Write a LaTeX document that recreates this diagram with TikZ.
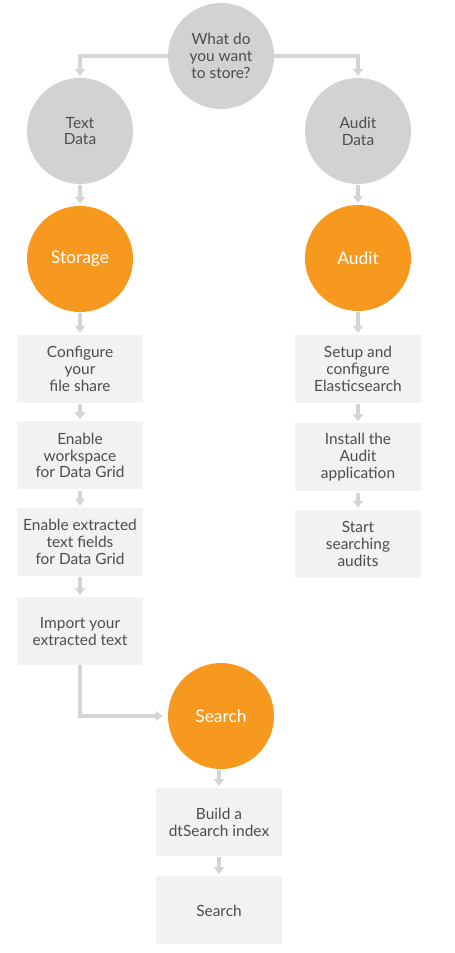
\documentclass[tikz,border=0pt]{standalone}
\usepackage{fontspec}
\setmainfont{Lato}
\usetikzlibrary{arrows.meta,positioning,calc}
\definecolor{qgray}{HTML}{D1D2D4}
\definecolor{orng}{HTML}{F7991F}
\definecolor{boxbg}{HTML}{F1F2F2}
\definecolor{txtgray}{HTML}{4D4D4F}
\definecolor{arrgray}{HTML}{D3D4D5}

\begin{document}
\begin{tikzpicture}[x=1bp, y=-1bp,
    circ/.style={circle, draw=none, fill=qgray, minimum size=106bp, inner sep=0pt,
                 align=center, text=txtgray, font=\fontsize{15.5}{17}\selectfont},
    hot/.style={circ, fill=orng, text=white, font=\fontsize{17.5}{20}\selectfont},
    box/.style={draw=none, fill=boxbg, minimum width=126bp, minimum height=68bp,
                inner sep=0pt, align=center, text=txtgray, font=\fontsize{15.5}{17}\selectfont},
    arr/.style={-{Triangle[width=10bp,length=7bp]}, line width=3.2bp, arrgray,
                shorten >=2bp, shorten <=1bp}]
    \useasboundingbox (0,0) rectangle (455,953);
    % circles
    \node[circ] (q) at (221,56) {What do\\you want\\to store?};
    \node[circ] (td) at (80,131) {Text\\Data};
    \node[circ] (ad) at (358,131) {Audit\\Data};
    \node[hot] (st) at (80,259) {Storage};
    \node[hot] (au) at (358,258) {Audit};
    \node[hot] (sr) at (221,716) {Search};
    % left column
    \node[box] (cfg) at (80,369) {Configure\\your\\file share};
    \node[box, below=18bp of cfg] (ws) {Enable\\workspace\\for Data Grid};
    \node[box, below=18bp of ws] (fld) {Enable extracted\\text fields\\for Data Grid};
    \node[box, below=21bp of fld] (imp) {Import your\\extracted text};
    % right column
    \node[box] (es) at (358,369) {Setup and\\configure\\Elasticsearch};
    \node[box, below=20bp of es] (inst) {Install the\\Audit\\application};
    \node[box, below=18bp of inst] (sa) {Start\\searching\\audits};
    % search column
    \node[box] (idx) at (219,822) {Build a\\dtSearch index};
    \node[box, below=20bp of idx] (srch) {Search};
    % connectors
    \draw[arr, shorten <=0bp] (q.west) -| (td.north);
    \draw[arr, shorten <=0bp] (q.east) -| (ad.north);
    \draw[arr] (td) -- (st);
    \draw[arr] (ad) -- (au);
    \draw[arr] (st) -- (cfg);
    \draw[arr] (cfg) -- (ws);
    \draw[arr] (ws) -- (fld);
    \draw[arr] (fld) -- (imp);
    \draw[arr] (au) -- (es);
    \draw[arr] (es) -- (inst);
    \draw[arr] (inst) -- (sa);
    \draw[arr, shorten <=0bp, shorten >=5bp] (imp.south) |- (sr.west);
    \draw[arr] (sr.south -| idx.north) -- (idx);
    \draw[arr] (idx) -- (srch);
  \end{tikzpicture}
\end{document}
